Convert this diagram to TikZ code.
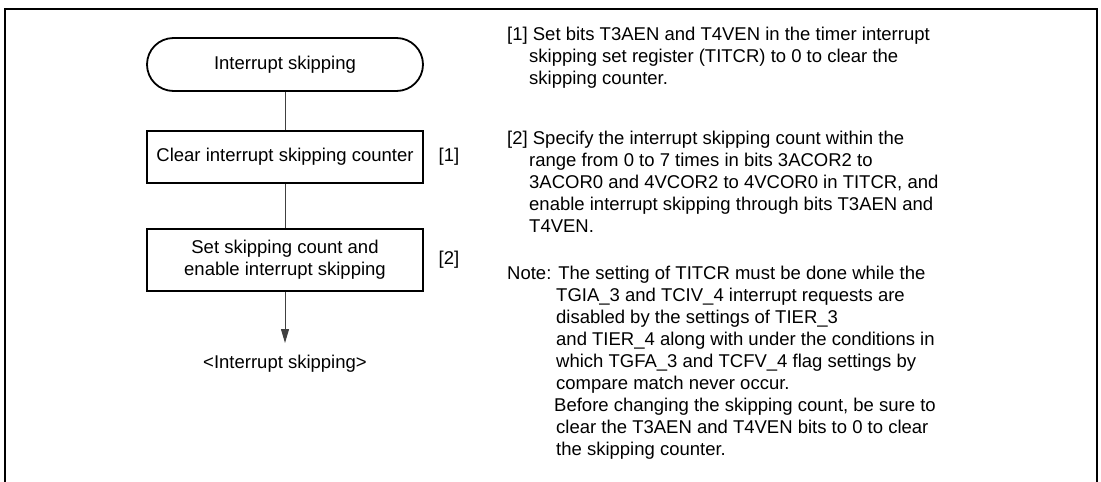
\documentclass[tikz,border=0pt]{standalone}
\usepackage{fontspec}
\setmainfont{Liberation Sans}
\usetikzlibrary{positioning,arrows.meta}
\begin{document}
\begin{tikzpicture}[x=1pt, y=-1pt,
    every node/.style={font=\fontsize{18.5}{22}\selectfont},
    flowbox/.style={draw, line width=1.8pt, minimum width=276pt, minimum height=52pt, inner sep=0pt, align=center},
    termbox/.style={flowbox, minimum height=53pt, rounded corners=26.5pt},
    stepnote/.style={anchor=north west, align=left, inner sep=0pt},
    link/.style={line width=1pt, draw=black!75}]
  \useasboundingbox (0,0) rectangle (1101,482);

  % Frame (open at the bottom)
  \draw[line width=2pt] (5,482) -- (5,9) -- (1097,9) -- (1097,482);

  % Flowchart
  \node[termbox] (start) at (285,64.5) {Interrupt skipping};
  \node[flowbox] (clear) at (285,157) {Clear interrupt skipping counter};
  \node[flowbox, minimum height=62pt] (setcnt) at (285,260) {Set skipping count and\\enable interrupt skipping};
  \coordinate (tip) at (285,343);
  \node (result) at (285,364) {<Interrupt skipping>};
  \node (ref1) at (449,157) {[1]};
  \node (ref2) at (449,260) {[2]};

  \draw[link] (start) -- (clear);
  \draw[link] (clear) -- (setcnt);
  \draw[link, -{Triangle[length=14pt, width=8pt]}] (setcnt) -- (tip);

  % Notes
  \node[stepnote] (note1) at (507,27) {[1] Set bits T3AEN and T4VEN in the timer interrupt\\
    \hspace*{22pt}skipping set register (TITCR) to 0 to clear the\\
    \hspace*{22pt}skipping counter.};
  \node[stepnote] (note2) at (507,131) {[2] Specify the interrupt skipping count within the\\
    \hspace*{22pt}range from 0 to 7 times in bits 3ACOR2 to\\
    \hspace*{22pt}3ACOR0 and 4VCOR2 to 4VCOR0 in TITCR, and\\
    \hspace*{22pt}enable interrupt skipping through bits T3AEN and\\
    \hspace*{22pt}T4VEN.};
  \node[stepnote] (note3) at (507,266) {Note: The setting of TITCR must be done while the\\
    \hspace*{49pt}TGIA\_3 and TCIV\_4 interrupt requests are\\
    \hspace*{49pt}disabled by the settings of TIER\_3\\
    \hspace*{49pt}and TIER\_4 along with under the conditions in\\
    \hspace*{49pt}which TGFA\_3 and TCFV\_4 flag settings by\\
    \hspace*{49pt}compare match never occur.\\
    \hspace*{47pt}Before changing the skipping count, be sure to\\
    \hspace*{49pt}clear the T3AEN and T4VEN bits to 0 to clear\\
    \hspace*{49pt}the skipping counter.};
\end{tikzpicture}
\end{document}
